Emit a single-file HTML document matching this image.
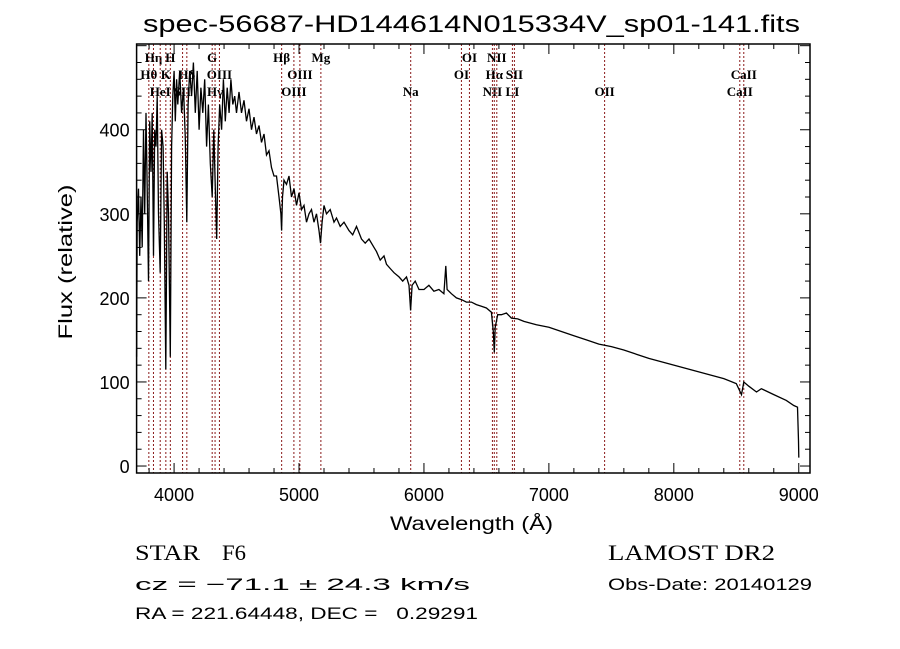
<!DOCTYPE html>
<html><head><meta charset="utf-8">
<style>
html,body{margin:0;padding:0;background:#fff;}
svg{display:block;font-family:"Liberation Sans",sans-serif;}
</style></head>
<body>
<svg id="chart" width="900" height="649" viewBox="0 0 900 649" xmlns="http://www.w3.org/2000/svg">
<rect width="900" height="649" fill="#fff"/>
<text x="143" y="32" font-size="24" textLength="657" lengthAdjust="spacingAndGlyphs" fill="#000">spec-56687-HD144614N015334V_sp01-141.fits</text>
<text transform="translate(72,262) rotate(-90)" font-size="19" text-anchor="middle" textLength="155" lengthAdjust="spacingAndGlyphs" fill="#000">Flux (relative)</text>
<text x="390" y="530" font-size="19" textLength="163" lengthAdjust="spacingAndGlyphs" fill="#000">Wavelength (Å)</text>
<g id="lines"></g>
<g id="spec"></g>
<g id="axes"></g>
<text x="135" y="560" font-family="Liberation Serif, serif" font-size="22" textLength="65" lengthAdjust="spacingAndGlyphs" fill="#000">STAR</text>
<text x="222" y="560" font-family="Liberation Serif, serif" font-size="22" textLength="24" lengthAdjust="spacingAndGlyphs" fill="#000">F6</text>
<text x="135" y="590" font-size="17" textLength="335" lengthAdjust="spacingAndGlyphs" fill="#000">cz = −71.1 ± 24.3 km/s</text>
<text x="135" y="619" font-size="17" textLength="343" lengthAdjust="spacingAndGlyphs" fill="#000" xml:space="preserve">RA = 221.64448, DEC =   0.29291</text>
<text x="608" y="560" font-family="Liberation Serif, serif" font-size="22" textLength="167" lengthAdjust="spacingAndGlyphs" fill="#000">LAMOST DR2</text>
<text x="608" y="590" font-size="17" textLength="204" lengthAdjust="spacingAndGlyphs" fill="#000">Obs-Date: 20140129</text>
</svg>
<script>
const waves=[3700,3705,3715,3725,3735,3745,3755,3765,3775,3785,3795,3805,3815,3825,3835,3845,3855,3865,3875,3889,3900,3912,3922,3934,3945,3955,3970,3980,3990,4000,4010,4020,4030,4045,4060,4075,4090,4102,4112,4125,4140,4155,4170,4185,4200,4215,4230,4245,4260,4275,4290,4305,4318,4330,4341,4352,4365,4380,4395,4410,4425,4440,4455,4470,4485,4500,4520,4540,4560,4580,4600,4620,4640,4660,4680,4700,4720,4740,4760,4780,4800,4820,4840,4855,4861,4868,4880,4900,4920,4940,4960,4980,5000,5020,5040,5060,5080,5100,5120,5140,5160,5172,5185,5200,5220,5250,5280,5300,5330,5360,5400,5430,5460,5500,5530,5560,5600,5620,5650,5680,5700,5730,5760,5800,5830,5860,5880,5893,5905,5930,5960,6000,6040,6080,6120,6160,6175,6185,6220,6260,6300,6340,6380,6420,6460,6500,6540,6555,6563,6570,6590,6620,6660,6700,6750,6800,6900,7000,7100,7200,7300,7400,7500,7600,7700,7800,7900,8000,8100,8200,8300,8400,8500,8542,8560,8600,8662,8700,8800,8900,8960,8990,8998,9000];
const flux=[130,290,330,250,320,260,400,300,420,330,220,410,350,420,250,400,380,440,300,230,400,380,290,115,350,300,130,380,440,470,410,460,430,470,420,450,390,290,430,470,440,480,420,470,400,450,420,460,380,430,360,320,400,330,270,380,430,400,460,410,450,420,460,430,440,420,445,420,435,410,425,400,415,395,405,385,395,370,375,355,345,345,320,300,280,320,340,335,345,320,330,310,325,305,310,290,300,305,290,300,280,265,290,310,300,305,290,295,285,290,280,275,285,270,265,270,260,255,245,250,240,235,230,225,220,225,215,185,215,220,210,210,215,208,210,205,238,210,205,200,198,195,195,192,190,188,183,160,135,165,180,180,182,176,175,172,168,165,160,155,150,145,142,138,133,128,124,120,116,112,108,104,98,85,100,95,88,92,85,78,72,70,30,10];
const lineWaves=[3798,3835,3889,3934,3970,4068,4102,4305,4328,4363,4861,4959,5007,5175,5894,6300,6364,6548,6563,6583,6708,6724,7446,8528,8560];
const lineLabels=["Hθ","Hη","HeI","K","H","SII","Hδ","G","Hγ","OIII","Hβ","OIII","OIII","Mg","Na","OI","OI","NII","Hα","NII","LI","SII","OII","CaII","CaII"];
const labelRows=[1,0,2,1,0,2,1,0,2,1,0,2,1,0,2,1,0,2,1,0,2,1,2,2,1];
const xTicks=[4000,5000,6000,7000,8000,9000];
const yTicks=[0,100,200,300,400];
const X0=136.6,X1=810,Y0=44,Y1=473,WMIN=3700,WMAX=9090,FMIN=-8.3,FMAX=502;
const sx=w=>X0+(w-WMIN)/(WMAX-WMIN)*(X1-X0);
const sy=f=>Y1-(f-FMIN)/(FMAX-FMIN)*(Y1-Y0);
const NS="http://www.w3.org/2000/svg";
function mk(tag,attrs,parent){const e=document.createElementNS(NS,tag);for(const k in attrs)e.setAttribute(k,attrs[k]);parent.appendChild(e);return e;}
const gl=document.getElementById('lines');
lineWaves.forEach((w,i)=>{
 const l=mk('line',{x1:sx(w),x2:sx(w),y1:Y0,y2:Y1,stroke:'#8b1a1a','stroke-width':1,'stroke-dasharray':'2,2'},gl);
 
 
 const t=mk('text',{x:sx(w),y:62+labelRows[i]*17,'font-size':13,'font-family':'Liberation Serif, serif','font-weight':'bold','text-anchor':'middle',fill:'#000'},gl);
 t.textContent=lineLabels[i];
 
 
});
const gs=document.getElementById('spec');
const p=mk('polyline',{points:waves.map((w,i)=>sx(w).toFixed(1)+','+sy(flux[i]).toFixed(1)).join(' '),fill:'none',stroke:'#000','stroke-width':1.3},gs);


const ga=document.getElementById('axes');
const fr=mk('rect',{x:X0,y:Y0,width:X1-X0,height:Y1-Y0,fill:'none',stroke:'#000','stroke-width':1.5},ga);


for(let w=3800;w<=WMAX;w+=200){const big=w%1000===0,h=big?10:5;
 mk('line',{x1:sx(w),x2:sx(w),y1:Y1,y2:Y1-h,stroke:'#000'},ga);
 mk('line',{x1:sx(w),x2:sx(w),y1:Y0,y2:Y0+h,stroke:'#000'},ga);}
for(let f=0;f<=FMAX;f+=20){const big=f%100===0,h=big?10:5;
 mk('line',{x1:X0,x2:X0+h,y1:sy(f),y2:sy(f),stroke:'#000'},ga);
 mk('line',{x1:X1,x2:X1-h,y1:sy(f),y2:sy(f),stroke:'#000'},ga);}
xTicks.forEach(v=>{const t=mk('text',{x:sx(v),y:501,'font-size':18,'text-anchor':'middle',fill:'#000'},ga);t.textContent=v;
 
 });
yTicks.forEach(v=>{const t=mk('text',{x:X0-7,y:sy(v)+7,'font-size':18,'text-anchor':'end',fill:'#000'},ga);t.textContent=v;
 
 });
</script>
</body></html>
